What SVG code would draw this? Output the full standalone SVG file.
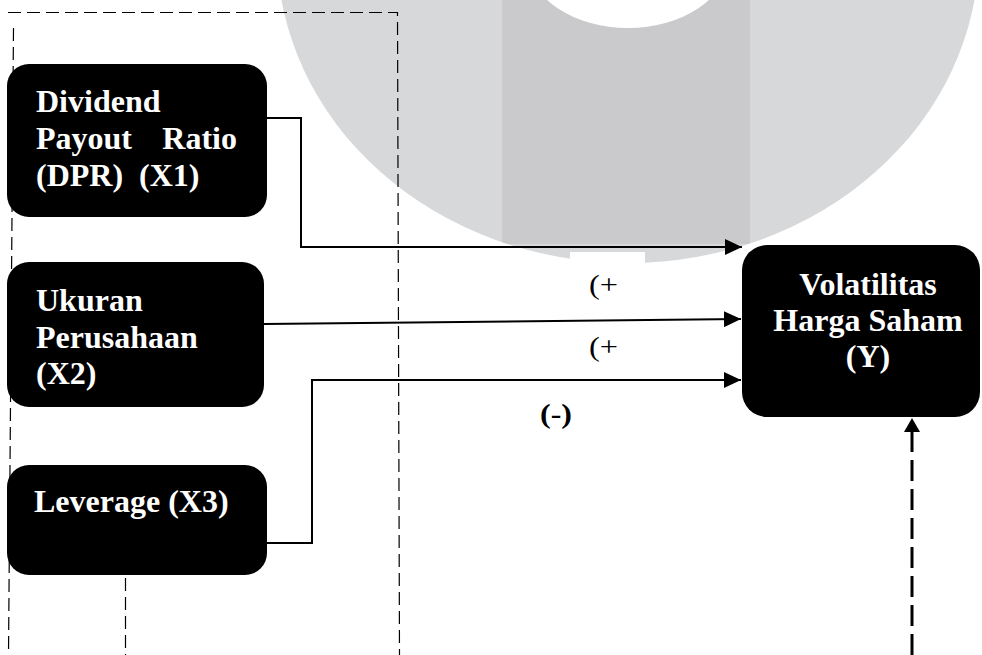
<svg xmlns="http://www.w3.org/2000/svg" width="982" height="655" viewBox="0 0 982 655">
<defs>
<style>
.node{fill:#000}
.nt{fill:#fff;font-family:"Liberation Serif","Times New Roman",serif;font-weight:bold;font-size:32px}
.lbl{fill:#000;font-family:"Liberation Serif","Times New Roman",serif;font-size:28px}
.conn{fill:none;stroke:#000;stroke-width:2}
.frame{fill:none;stroke:#000;stroke-width:1.2;stroke-dasharray:13 6}
</style>
<marker id="arr" markerUnits="userSpaceOnUse" markerWidth="18" markerHeight="16" refX="17" refY="8" orient="auto">
<path d="M0,0 L17,8 L0,16 Z" fill="#000"/>
</marker>
<clipPath id="wm">
<ellipse cx="628" cy="-50" rx="351" ry="313"/>
</clipPath>
</defs>
<g id="watermark">
<ellipse cx="628" cy="-50" rx="351" ry="313" fill="#d7d8da"/>
<rect x="502" y="0" width="248" height="244" fill="#cacacc" clip-path="url(#wm)"/>
<ellipse cx="628" cy="-40" rx="100" ry="68" fill="#fff"/>
<rect x="570" y="252" width="75" height="20" fill="#fff"/>
</g>
<g id="frame">
<polyline class="frame" points="8,12.5 397.5,12.5 399.5,655"/>
<line class="frame" x1="13.5" y1="28" x2="8.5" y2="655"/>
<line class="frame" x1="125.5" y1="578" x2="125.5" y2="655"/>
</g>
<g id="connectors">
<polyline class="conn" points="267,118 301,118 301,247 742,247" marker-end="url(#arr)"/>
<line class="conn" x1="264" y1="324" x2="741" y2="319" marker-end="url(#arr)"/>
<polyline class="conn" points="267,543 312,543 312,380 741,380" marker-end="url(#arr)"/>
<line x1="912" y1="655" x2="912" y2="430" stroke="#000" stroke-width="3" stroke-dasharray="21 8"/>
<path d="M904,432 L912,418 L920,432 Z" fill="#000"/>
</g>
<g id="labels">
<text class="lbl" x="589" y="294" textLength="29" lengthAdjust="spacingAndGlyphs">(+</text>
<text class="lbl" x="589" y="356" textLength="29" lengthAdjust="spacingAndGlyphs">(+</text>
<text class="lbl" x="540" y="423" font-weight="bold" textLength="32" lengthAdjust="spacingAndGlyphs">(-)</text>
</g>
<g id="node-x1">
<rect class="node" x="7" y="64" width="260" height="153" rx="22"/>
<text class="nt" x="36" y="112">Dividend</text>
<text class="nt" x="36" y="149">Payout</text>
<text class="nt" x="237" y="149" text-anchor="end">Ratio</text>
<text class="nt" x="36" y="186">(DPR)</text>
<text class="nt" x="139" y="186">(X1)</text>
</g>
<g id="node-x2">
<rect class="node" x="7" y="262" width="257" height="145" rx="22"/>
<text class="nt" x="36" y="311">Ukuran</text>
<text class="nt" x="36" y="348">Perusahaan</text>
<text class="nt" x="36" y="384">(X2)</text>
</g>
<g id="node-x3">
<rect class="node" x="7" y="465" width="260" height="110" rx="22"/>
<text class="nt" x="34" y="512">Leverage (X3)</text>
</g>
<g id="node-y">
<rect class="node" x="742" y="245" width="238" height="172" rx="25"/>
<text class="nt" x="868" y="295" text-anchor="middle">Volatilitas</text>
<text class="nt" x="868" y="331" text-anchor="middle">Harga Saham</text>
<text class="nt" x="868" y="367" text-anchor="middle">(Y)</text>
</g>
</svg>
